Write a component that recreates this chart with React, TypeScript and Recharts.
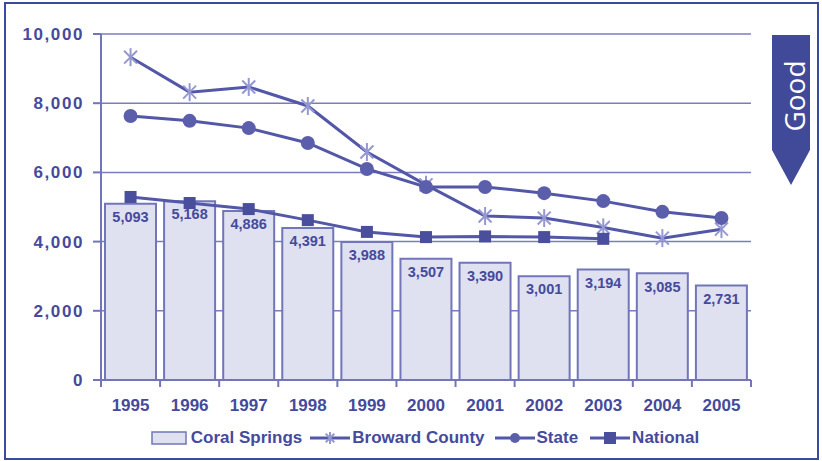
import {
  Bar,
  CartesianGrid,
  ComposedChart,
  LabelList,
  Legend,
  Line,
  XAxis,
  YAxis,
} from "recharts";

const years = ["1995", "1996", "1997", "1998", "1999", "2000", "2001", "2002", "2003", "2004", "2005"];
const coralSprings = [5093, 5168, 4886, 4391, 3988, 3507, 3390, 3001, 3194, 3085, 2731];
const broward = [9330, 8320, 8470, 7920, 6590, 5640, 4740, 4680, 4410, 4100, 4360];
const state = [7630, 7490, 7280, 6850, 6100, 5580, 5580, 5400, 5170, 4860, 4680];
const national = [5290, 5115, 4940, 4620, 4280, 4130, 4150, 4130, 4080, null, null];
const yTicks = [0, 2000, 4000, 6000, 8000, 10000];

const data = years.map((year, i) => ({
  year,
  coral: coralSprings[i],
  broward: broward[i],
  state: state[i],
  national: national[i],
}));

const FONT = "'Liberation Sans', Arial, sans-serif";
const INK = "#454a9c";
const LINE = "#5357a7";
const STAR = "#9598d0";
const BAR_FILL = "#dfe0f0";
const BAR_STROKE = "#7276b9";

const fmt = (v: number) => v.toLocaleString("en-US");

function Asterisk({ cx, cy, size = 9 }: any) {
  if (cx == null || cy == null) return null;
  const d = size * 0.72;
  return (
    <g stroke={STAR} strokeWidth={2}>
      <line x1={cx} y1={cy - size} x2={cx} y2={cy + size} />
      <line x1={cx - d} y1={cy - d} x2={cx + d} y2={cy + d} />
      <line x1={cx - d} y1={cy + d} x2={cx + d} y2={cy - d} />
    </g>
  );
}

function SquareDot({ cx, cy }: any) {
  if (cx == null || cy == null) return null;
  return <rect x={cx - 6} y={cy - 6} width={12} height={12} fill="#4a4f9d" />;
}

// category labels plus tick marks on the boundaries between years
function YearTick({ x, y, payload, index }: any) {
  const half = 650 / 11 / 2;
  return (
    <g>
      <line x1={x - half} x2={x - half} y1={y - 8} y2={y - 1} stroke={BAR_STROKE} strokeWidth={2} />
      {index === years.length - 1 && (
        <line x1={x + half} x2={x + half} y1={y - 8} y2={y - 1} stroke={BAR_STROKE} strokeWidth={2} />
      )}
      <text x={x} y={y} dy={23} textAnchor="middle" fill={INK} fontFamily={FONT} fontWeight="bold" fontSize={17}>
        {payload.value}
      </text>
    </g>
  );
}

function LegendBox() {
  const txt = { color: INK, fontFamily: FONT, fontWeight: "bold", fontSize: 17 } as const;
  const lineSvg = (marker: any) => (
    <svg width={40} height={20} style={{ marginRight: 2 }}>
      <line x1={0} x2={40} y1={10} y2={10} stroke={LINE} strokeWidth={3} />
      {marker}
    </svg>
  );
  return (
    <div style={{ display: "flex", justifyContent: "center", alignItems: "center", paddingLeft: 28 }}>
      <svg width={36} height={14} style={{ marginRight: 4 }}>
        <rect x={1} y={1} width={34} height={12} fill={BAR_FILL} stroke={BAR_STROKE} strokeWidth={1.5} />
      </svg>
      <span style={{ ...txt, marginRight: 8 }}>Coral Springs</span>
      {lineSvg(<Asterisk cx={20} cy={10} size={6} />)}
      <span style={{ ...txt, marginRight: 10 }}>Broward County</span>
      {lineSvg(<circle cx={20} cy={10} r={5} fill="#5b5eab" />)}
      <span style={{ ...txt, marginRight: 12 }}>State</span>
      {lineSvg(<rect x={14} y={4} width={12} height={12} fill="#4a4f9d" />)}
      <span style={txt}>National</span>
    </div>
  );
}

export default function App() {
  return (
    <div style={{ position: "absolute", left: 0, top: 0, width: 822, height: 461, background: "#fff" }}>
      <div
        style={{
          position: "absolute",
          left: 4,
          top: 2,
          width: 811,
          height: 454,
          border: "2px solid #3a4a9c",
        }}
      />
      <ComposedChart
        width={822}
        height={461}
        data={data}
        margin={{ top: 34, right: 71, bottom: 3, left: 0 }}
        barCategoryGap={4}
      >
        <CartesianGrid vertical={false} stroke="#7a7dbb" strokeWidth={1.5} />
        <XAxis
          dataKey="year"
          height={48}
          tickLine={false}
          axisLine={{ stroke: BAR_STROKE, strokeWidth: 2 }}
          tick={<YearTick />}
          interval={0}
        />
        <YAxis
          width={101}
          domain={[0, 10000]}
          ticks={yTicks}
          tickFormatter={fmt}
          tickSize={8}
          tickMargin={9}
          axisLine={{ stroke: BAR_STROKE, strokeWidth: 2 }}
          tickLine={{ stroke: BAR_STROKE, strokeWidth: 2 }}
          tick={{ fill: INK, fontFamily: FONT, fontWeight: "bold", fontSize: 17, letterSpacing: 1.6 }}
        />
        <YAxis
          yAxisId="r"
          orientation="right"
          width={0}
          domain={[0, 10000]}
          tick={false}
          tickLine={false}
          axisLine={{ stroke: "#8e91c6", strokeWidth: 2 }}
        />
        <Legend verticalAlign="bottom" height={30} content={<LegendBox />} wrapperStyle={{ left: 0, width: 822 }} />
        <Bar dataKey="coral" fill={BAR_FILL} stroke={BAR_STROKE} strokeWidth={2} isAnimationActive={false}>
          <LabelList
            dataKey="coral"
            position="insideTop"
            offset={8}
            formatter={(v: any) => fmt(Number(v))}
            fill={INK}
            fontFamily={FONT}
            fontWeight="bold"
            fontSize={14.5}
          />
        </Bar>
        <Line
          dataKey="broward"
          stroke={LINE}
          strokeWidth={3}
          dot={<Asterisk />}
          isAnimationActive={false}
        />
        <Line
          dataKey="state"
          stroke={LINE}
          strokeWidth={3}
          dot={{ r: 7, fill: "#5b5eab", stroke: "none" }}
          isAnimationActive={false}
        />
        <Line
          dataKey="national"
          stroke={LINE}
          strokeWidth={3}
          dot={<SquareDot />}
          connectNulls={false}
          isAnimationActive={false}
        />
      </ComposedChart>
      <svg style={{ position: "absolute", left: 0, top: 0 }} width={822} height={461} pointerEvents="none">
        <path d="M772,35 L810,35 L810,150 L791,185 L772,150 Z" fill="#414a98" />
        <text
          transform="translate(805,96) rotate(-90)"
          textAnchor="middle"
          fill="#fff"
          fontFamily="'Open Sans', sans-serif"
          fontSize={28}
        >
          Good
        </text>
      </svg>
    </div>
  );
}
